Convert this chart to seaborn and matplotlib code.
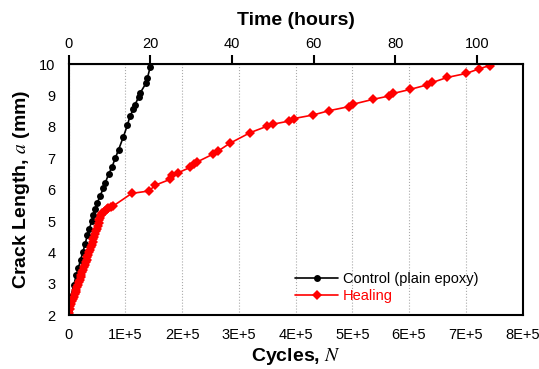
import numpy as np
import pandas as pd
import seaborn as sns
import matplotlib.pyplot as plt

# crack length vs cycles
control_cycles = [0, 3500, 9000, 13000, 17000, 21000, 25000, 29000, 33000, 36500,
                  40500, 43500, 47000, 50500, 55000, 61000, 64000, 70500, 76000, 82000,
                  88000, 96000, 103500, 108000, 114000, 116500, 123500, 125500, 136000,
                  138500, 143500]
control_len = [2.15, 2.58, 2.95, 3.27, 3.50, 3.77, 4.01, 4.28, 4.55, 4.76,
               5.00, 5.19, 5.37, 5.58, 5.79, 6.04, 6.20, 6.50, 6.71, 7.00,
               7.28, 7.67, 8.06, 8.35, 8.56, 8.70, 8.96, 9.07, 9.39,
               9.55, 9.90]

healing_cycles = [0, 1500, 3000, 4500, 6000, 7500, 9000, 10500, 12000, 13500,
                  15000, 16500, 18000, 19500, 21000, 22500, 24000, 25500, 27000, 28500,
                  30000, 31500, 33000, 34500, 36000, 37500, 39000, 40500, 42000, 43500,
                  45000, 46500, 48000, 49500, 51000, 52500, 54000, 55500, 57000, 59000,
                  61500, 64000, 67000, 70000, 74000, 78500, 111000, 142000, 152000, 179000,
                  182000, 193000, 214000, 220000, 227000, 255000, 264000, 284000, 320000, 349000,
                  360000, 389000, 397000, 430000, 459000, 494000, 502000, 536000, 565000, 572000,
                  602000, 631000, 641000, 667000, 701000, 724000, 742000]
healing_len = [2.05, 2.18, 2.28, 2.36, 2.44, 2.52, 2.59, 2.66, 2.73, 2.81,
               2.89, 2.97, 3.05, 3.13, 3.21, 3.29, 3.37, 3.45, 3.53, 3.61,
               3.69, 3.77, 3.85, 3.93, 4.01, 4.09, 4.17, 4.25, 4.33, 4.41,
               4.49, 4.58, 4.67, 4.76, 4.85, 4.94, 5.03, 5.11, 5.18, 5.24,
               5.29, 5.33, 5.37, 5.40, 5.44, 5.48, 5.88, 5.96, 6.14, 6.33,
               6.46, 6.54, 6.71, 6.81, 6.89, 7.14, 7.24, 7.48, 7.82, 8.02,
               8.09, 8.19, 8.27, 8.38, 8.52, 8.65, 8.73, 8.88, 8.99, 9.07,
               9.20, 9.34, 9.42, 9.58, 9.71, 9.86, 9.96]

x_ticks = [0, 1e5, 2e5, 3e5, 4e5, 5e5, 6e5, 7e5, 8e5]
x_ticklabels = ['0', '1E+5', '2E+5', '3E+5', '4E+5', '5E+5', '6E+5', '7E+5', '8E+5']
y_ticks = [2, 3, 4, 5, 6, 7, 8, 9, 10]
hour_ticks = [0, 20, 40, 60, 80, 100]
cycles_per_hour = 7200  # 2 Hz loading

control_df = pd.DataFrame({'Cycles': control_cycles, 'Length': control_len})
healing_df = pd.DataFrame({'Cycles': healing_cycles, 'Length': healing_len})

sns.set_style('white')
plt.rcParams['font.family'] = ['Liberation Sans', 'DejaVu Sans']
plt.rcParams['mathtext.fontset'] = 'stix'
plt.rcParams['text.color'] = 'black'
plt.rcParams['axes.labelcolor'] = 'black'
plt.rcParams['xtick.color'] = 'black'
plt.rcParams['ytick.color'] = 'black'

fig = plt.figure(figsize=(5.39, 3.69), dpi=100)
ax = fig.add_axes([0.1275, 0.1463, 0.8419, 0.6794])

sns.lineplot(data=control_df, x='Cycles', y='Length', ax=ax, sort=False, estimator=None,
             color='black', marker='o', markersize=5, markeredgewidth=0,
             linewidth=1.2, label='Control (plain epoxy)')
sns.lineplot(data=healing_df, x='Cycles', y='Length', ax=ax, sort=False, estimator=None,
             color='#ff0000', marker='D', markersize=5, markeredgewidth=0,
             linewidth=1.2, label='Healing')

ax.set_xlim(0, 8e5)
ax.set_ylim(2, 10)
ax.set_xticks(x_ticks)
ax.set_xticklabels(x_ticklabels)
ax.set_yticks(y_ticks)
ax.tick_params(axis='both', direction='out', length=6.5, width=1.5, labelsize=10.5, pad=3)
ax.xaxis.grid(True, linestyle=':', color='#aaaaaa', linewidth=0.8)
ax.yaxis.grid(False)
for s in ax.spines.values():
    s.set_linewidth(1.5)
    s.set_color('black')

ax.set_xlabel(r'Cycles, $N$', fontsize=14, fontweight='bold', labelpad=3)
ax.set_ylabel(r'Crack Length, $a$ (mm)', fontsize=14, fontweight='bold', labelpad=5)

top = ax.secondary_xaxis('top', functions=(lambda c: c / cycles_per_hour,
                                           lambda h: h * cycles_per_hour))
top.set_xticks(hour_ticks)
top.tick_params(direction='out', length=6.5, width=1.5, labelsize=10.5, pad=3)
top.set_xlabel('Time (hours)', fontsize=14, fontweight='bold', labelpad=9)

leg = ax.legend(loc='lower left', bbox_to_anchor=(0.485, 0.025), frameon=False,
                fontsize=10.5, handlelength=3.0, handletextpad=0.3,
                labelspacing=0.2, borderaxespad=0)
for txt, col in zip(leg.get_texts(), ['black', '#ff0000']):
    txt.set_color(col)

fig.savefig('out.png', dpi=100)
